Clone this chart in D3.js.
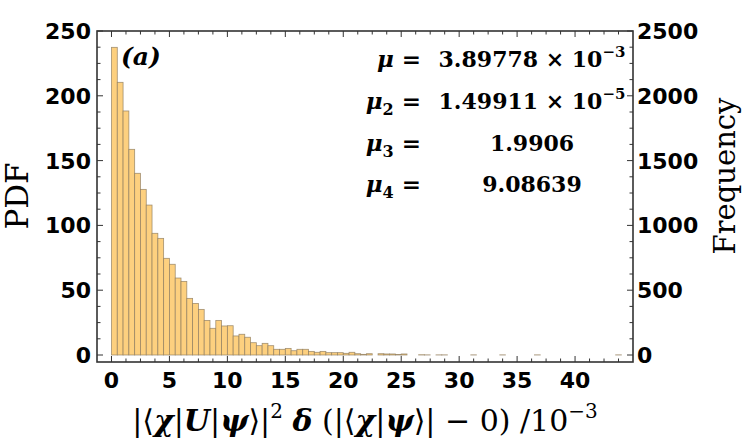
<!DOCTYPE html>
<html lang="en">
<head>
<meta charset="utf-8" />
<title></title>
<script src="https://d3js.org/d3.v7.min.js"></script>
<style>
  body { margin: 0; background: #fff; }
  svg { display: block; }
  .tick-label { font-family: "DejaVu Sans", sans-serif; font-weight: bold; font-size: 22px; fill: #000; }
  .serif { font-family: "DejaVu Serif", serif; fill: #000; }
</style>
</head>
<body>
<svg width="747" height="446"></svg>
<script>
  let width = 747, height = 446;

  // histogram (bin width 0.5, starting at 0), PDF values
  var binWidth = 0.5;
  var pdf = [237.4, 210.4, 188.3, 158.7, 140.2, 127.8, 115.7, 93.9, 90.0, 74.6,
             70.0, 59.4, 56.8, 43.7, 39.8, 35.2, 26.7, 20.6, 26.7, 22.4,
             22.6, 14.7, 16.0, 13.7, 9.5, 7.2, 9.0, 7.2, 4.4, 4.4,
             5.1, 3.3, 4.4, 4.4, 2.8, 2.1, 2.8, 1.8, 1.8, 1.8,
             1.3, 2.1, 1.0, 0.5, 1.0, 0, 1.0, 0.8, 0.8, 0.4,
             0.8, 0, 0, 0.2, 0.1, 0, 0.1, 0.1, 0, 0,
             0, 0, 0.1, 0, 0, 0, 0, 0.1, 0, 0,
             0, 0, 0, 0.1, 0, 0, 0, 0, 0, 0,
             0, 0, 0, 0, 0, 0, 0, 0.1];
  var xTicks = [0, 5, 10, 15, 20, 25, 30, 35, 40];
  var pdfTicks = [0, 50, 100, 150, 200, 250];
  var freqTicks = [0, 500, 1000, 1500, 2000, 2500];
  var moments = [
    { name: "μ", sub: "", value: "3.89778 × 10", exp: "−3" },
    { name: "μ", sub: "2", value: "1.49911 × 10", exp: "−5" },
    { name: "μ", sub: "3", value: "1.9906", exp: "" },
    { name: "μ", sub: "4", value: "9.08639", exp: "" }
  ];

  let svg = d3.select("svg");

  var plotL = 97, plotR = 633, plotT = 31, plotB = 362;

  var x = d3.scaleLinear().domain([-1.25, 45]).range([plotL, plotR]);
  var y = d3.scaleLinear().domain([-5.4, 250]).range([plotB, plotT]);
  var yFreq = d3.scaleLinear().domain([-54, 2500]).range([plotB, plotT]);

  // bars
  svg.append("g")
      .selectAll("rect")
      .data(pdf.map((v, i) => ({ x0: i * binWidth, v: v })).filter(d => d.v > 0))
      .enter()
      .append("rect")
      .attr("x", d => x(d.x0))
      .attr("width", d => x(d.x0 + binWidth) - x(d.x0))
      .attr("y", d => y(d.v))
      .attr("height", d => y(0) - y(d.v))
      .attr("fill", "#fdd07f")
      .attr("stroke", "#8c7a5e")
      .attr("stroke-opacity", 0.8)
      .attr("stroke-width", 0.8);

  var frameColor = "#333";
  var minorX = d3.range(-1.25, 45.01, 1.25).filter(v => v > -1.2 && v < 44.9);
  var minorY = d3.range(0, 250.01, 12.5);
  var minorF = d3.range(0, 2500.01, 125);

  var ticks = svg.append("g").attr("stroke", frameColor).attr("stroke-width", 1);
  // bottom / top
  minorX.forEach(v => {
    var len = (v % 5 === 0) ? 6 : 3.5;
    ticks.append("line").attr("x1", x(v)).attr("x2", x(v)).attr("y1", plotB).attr("y2", plotB - len);
    ticks.append("line").attr("x1", x(v)).attr("x2", x(v)).attr("y1", plotT).attr("y2", plotT + len);
  });
  // left
  minorY.forEach(v => {
    var len = (v % 50 === 0) ? 6 : 3.5;
    ticks.append("line").attr("x1", plotL).attr("x2", plotL + len).attr("y1", y(v)).attr("y2", y(v));
  });
  // right
  minorF.forEach(v => {
    var len = (v % 500 === 0) ? 6 : 3.5;
    ticks.append("line").attr("x1", plotR).attr("x2", plotR - len).attr("y1", yFreq(v)).attr("y2", yFreq(v));
  });

  svg.append("rect")
      .attr("x", plotL).attr("y", plotT)
      .attr("width", plotR - plotL).attr("height", plotB - plotT)
      .attr("fill", "none")
      .attr("stroke", frameColor)
      .attr("stroke-width", 1.6);

  // tick labels
  svg.append("g").selectAll("text").data(xTicks).enter().append("text")
      .attr("class", "tick-label")
      .attr("x", d => x(d)).attr("y", 388)
      .attr("text-anchor", "middle")
      .text(d => d);

  svg.append("g").selectAll("text").data(pdfTicks).enter().append("text")
      .attr("class", "tick-label")
      .attr("x", 91).attr("y", d => y(d) + 8)
      .attr("text-anchor", "end")
      .text(d => d);

  svg.append("g").selectAll("text").data(freqTicks).enter().append("text")
      .attr("class", "tick-label")
      .attr("x", 637).attr("y", d => yFreq(d) + 8)
      .attr("text-anchor", "start")
      .text(d => d);

  // axis titles
  svg.append("text")
      .attr("class", "serif")
      .attr("transform", "translate(28,196) rotate(-90)")
      .attr("text-anchor", "middle")
      .style("font-size", "31px")
      .text("PDF");

  svg.append("text")
      .attr("class", "serif")
      .attr("transform", "translate(735,176) rotate(-90)")
      .attr("text-anchor", "middle")
      .style("font-size", "29px")
      .text("Frequency");

  // x label: |<chi|U|psi>|^2 delta(|<chi|psi>| - 0)/10^-3
  var xl = svg.append("text")
      .attr("class", "serif")
      .attr("x", (plotL + plotR) / 2).attr("y", 431)
      .attr("text-anchor", "middle")
      .style("font-size", "30px");
  var parts = [
    ["|⟨", ""], ["χ", "i"], ["|", ""], ["U", "i"], ["|", ""], ["ψ", "i"], ["⟩|", ""],
    ["2", "sup"], [" ", ""], ["δ", "i"], [" (|⟨", ""], ["χ", "i"], ["|", ""], ["ψ", "i"],
    ["⟩| − 0) /10", ""], ["−3", "sup"]
  ];
  var prevSup = false;
  parts.forEach(p => {
    var t = xl.append("tspan").text(p[0]);
    if (p[1] === "i") t.style("font-style", "italic").style("font-weight", "bold");
    if (p[1] === "sup") {
      t.attr("dy", -13).style("font-size", "20px");
      prevSup = true;
    } else if (prevSup) {
      t.attr("dy", 13);
      prevSup = false;
    }
  });

  // panel tag
  svg.append("text")
      .attr("class", "serif")
      .attr("x", 121).attr("y", 65)
      .style("font-size", "25px")
      .style("font-weight", "bold")
      .style("font-style", "italic")
      .text("(a)");

  // moments
  var rowY = [67, 109, 151, 192];
  moments.forEach((m, i) => {
    var lt = svg.append("text")
        .attr("class", "serif")
        .attr("x", 421).attr("y", rowY[i])
        .attr("text-anchor", "end")
        .style("font-size", "23px")
        .style("font-weight", "bold");
    lt.append("tspan").style("font-style", "italic").text(m.name);
    if (m.sub) {
      lt.append("tspan").attr("dy", 6).style("font-size", "16px").text(m.sub);
      lt.append("tspan").attr("dy", -6).text(" =");
    } else {
      lt.append("tspan").text("  =");
    }

    var vt = svg.append("text")
        .attr("class", "serif")
        .attr("x", 532).attr("y", rowY[i])
        .attr("text-anchor", "middle")
        .style("font-size", "22px")
        .style("font-weight", "bold");
    vt.append("tspan").text(m.value);
    if (m.exp) {
      vt.append("tspan").attr("dy", -10).style("font-size", "15px").text(m.exp);
    }
  });
</script>
</body>
</html>
